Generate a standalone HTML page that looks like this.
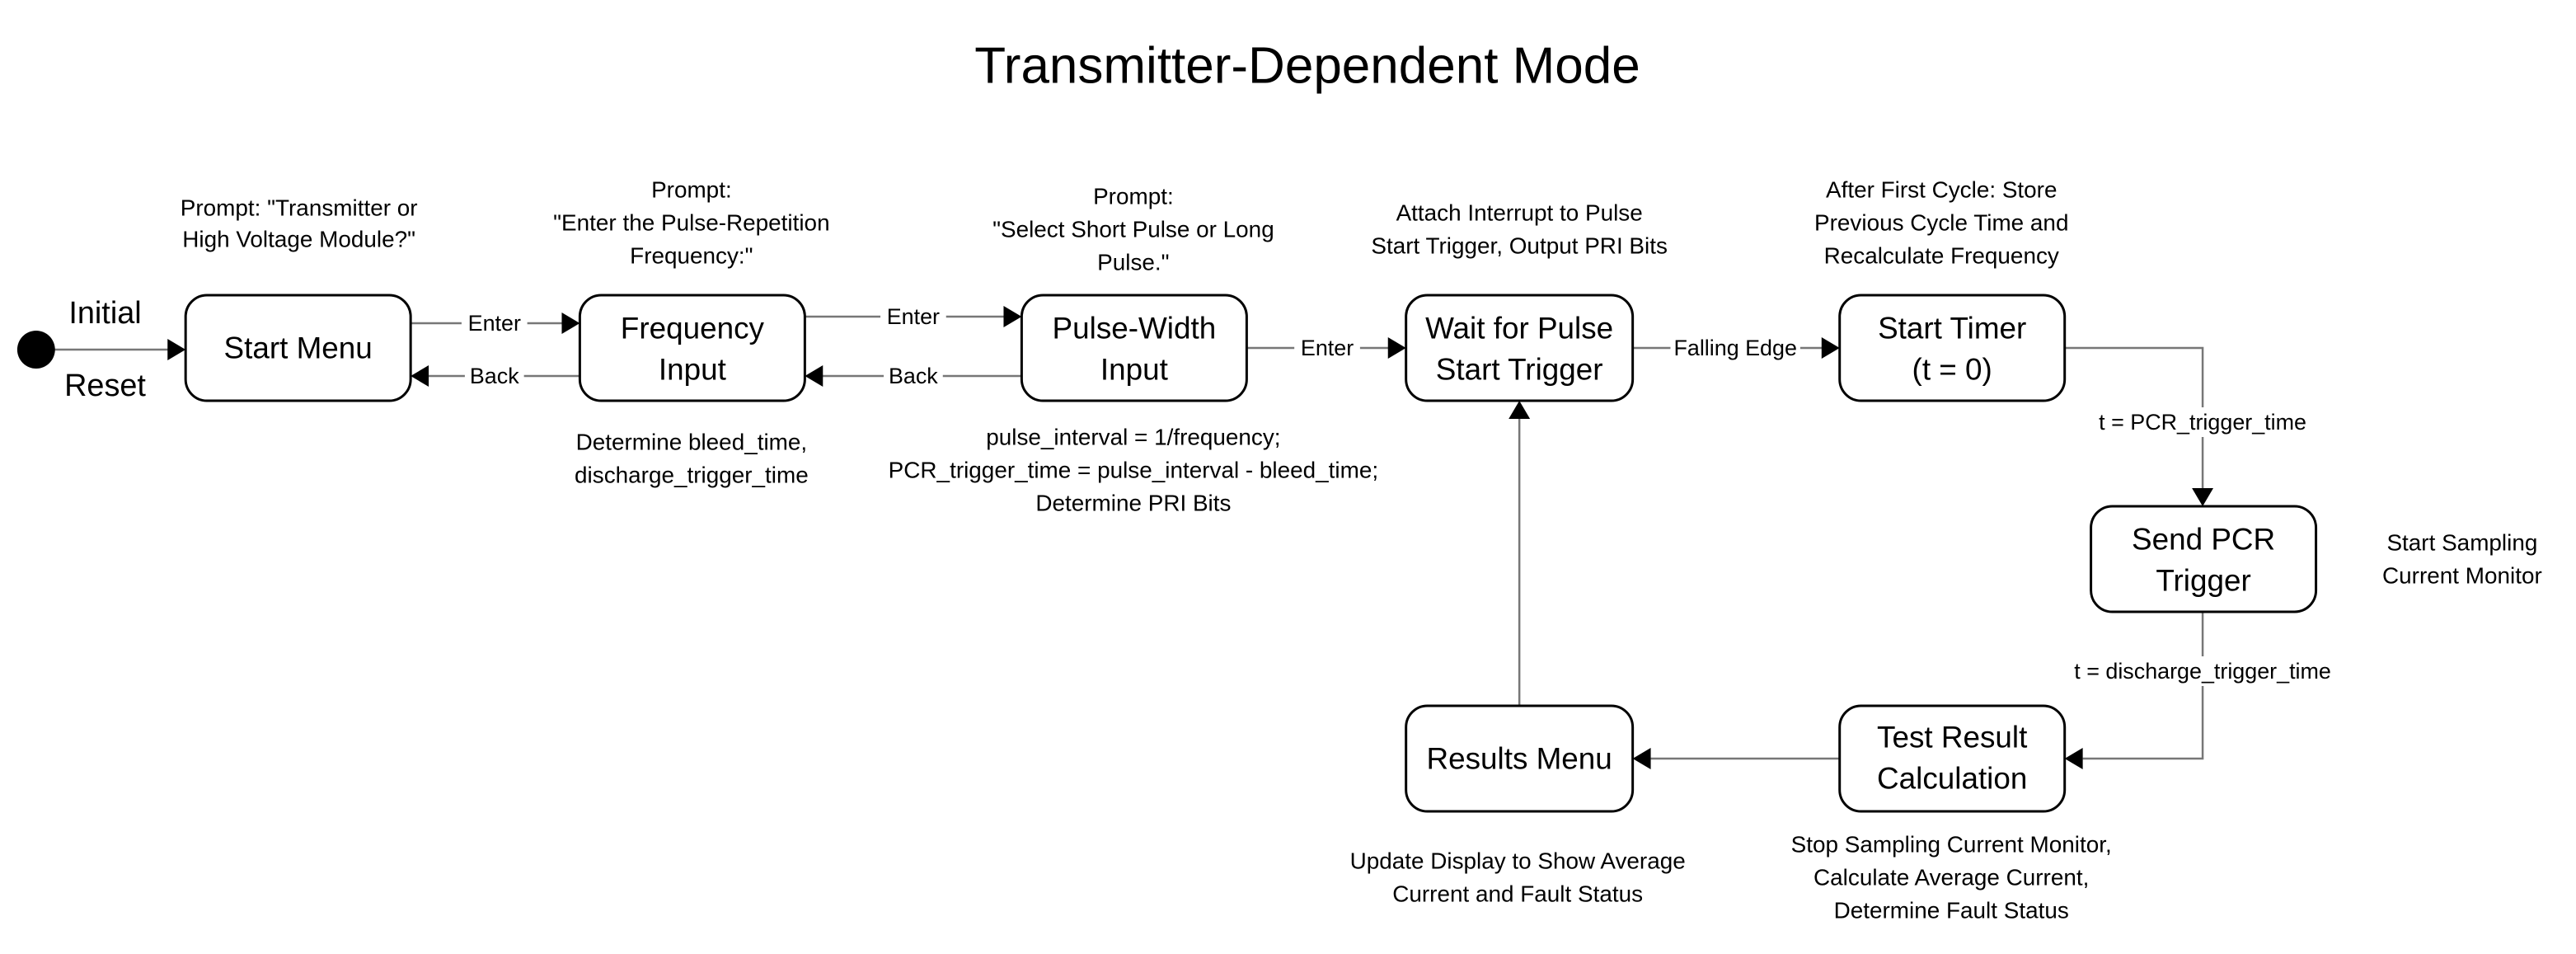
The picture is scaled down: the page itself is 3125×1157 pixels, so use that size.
<!DOCTYPE html>
<html><head><meta charset="utf-8"><style>
html,body{margin:0;padding:0;background:#fff;}
svg{display:block;}
text{font-family:"Liberation Sans",sans-serif;fill:#000;}
</style></head><body>
<svg width="3125" height="1157" viewBox="0 0 3125 1157" xmlns="http://www.w3.org/2000/svg">
<text x="1586" y="80" font-size="62" text-anchor="middle" dominant-baseline="central">Transmitter-Dependent Mode</text>
<g transform="scale(0.9963 1)">
<g fill="none" stroke="#777" stroke-width="2.5">
<line x1="44" y1="424" x2="206" y2="424"/>
<line x1="500" y1="392" x2="686" y2="392"/>
<line x1="522" y1="456" x2="706" y2="456"/>
<line x1="980" y1="384" x2="1224" y2="384"/>
<line x1="1000" y1="456" x2="1244" y2="456"/>
<line x1="1518" y1="422" x2="1692" y2="422"/>
<line x1="1988" y1="422" x2="2220" y2="422"/>
<polyline points="2514,422 2682,422 2682,594"/>
<polyline points="2682,742 2682,920 2536,920"/>
<line x1="2240" y1="920" x2="2010" y2="920"/>
<line x1="1850" y1="856" x2="1850" y2="508"/>
</g>
<g fill="#000">
<circle cx="44" cy="424" r="23"/>
<polygon points="226,424 204,411 204,437"/>
<polygon points="706,392 684,379 684,405"/>
<polygon points="500,456 522,443 522,469"/>
<polygon points="1244,384 1222,371 1222,397"/>
<polygon points="980,456 1002,443 1002,469"/>
<polygon points="1712,422 1690,409 1690,435"/>
<polygon points="2240,422 2218,409 2218,435"/>
<polygon points="2682,614 2669,592 2695,592"/>
<polygon points="2514,920 2536,907 2536,933"/>
<polygon points="1988,920 2010,907 2010,933"/>
<polygon points="1850,486 1837,508 1863,508"/>
</g>

<g fill="#fff" stroke="#000" stroke-width="3">
<rect x="226" y="358" width="274" height="128" rx="26"/>
<rect x="706" y="358" width="274" height="128" rx="26"/>
<rect x="1244" y="358" width="274" height="128" rx="26"/>
<rect x="1712" y="358" width="276" height="128" rx="26"/>
<rect x="2240" y="358" width="274" height="128" rx="26"/>
<rect x="2546" y="614" width="274" height="128" rx="26"/>
<rect x="2240" y="856" width="274" height="128" rx="26"/>
<rect x="1712" y="856" width="276" height="128" rx="26"/>
</g>

<g font-size="37" text-anchor="middle" dominant-baseline="central">
<text x="363" y="422">Start Menu</text>
<text x="843" y="398">Frequency</text><text x="843" y="448">Input</text>
<text x="1381" y="398">Pulse-Width</text><text x="1381" y="448">Input</text>
<text x="1850" y="398">Wait for Pulse</text><text x="1850" y="448">Start Trigger</text>
<text x="2377" y="398">Start Timer</text><text x="2377" y="448">(t = 0)</text>
<text x="2683" y="654">Send PCR</text><text x="2683" y="704">Trigger</text>
<text x="2377" y="894">Test Result</text><text x="2377" y="944">Calculation</text>
<text x="1850" y="920">Results Menu</text>
<text x="128" y="380" font-size="38">Initial</text>
<text x="128" y="468" font-size="38">Reset</text>
</g>

<g font-size="27" text-anchor="middle" dominant-baseline="central">
<rect x="562" y="376" width="80" height="32" fill="#fff"/><text x="602" y="392">Enter</text>
<rect x="566" y="440" width="72" height="32" fill="#fff"/><text x="602" y="456">Back</text>
<rect x="1072" y="368" width="80" height="32" fill="#fff"/><text x="1112" y="384">Enter</text>
<rect x="1076" y="440" width="72" height="32" fill="#fff"/><text x="1112" y="456">Back</text>
<rect x="1576" y="406" width="80" height="32" fill="#fff"/><text x="1616" y="422">Enter</text>
<rect x="2034" y="406" width="158" height="32" fill="#fff"/><text x="2113" y="422">Falling Edge</text>
<rect x="2522" y="494" width="320" height="36" fill="#fff"/><text x="2682" y="512">t = PCR_trigger_time</text>
<rect x="2482" y="796" width="400" height="36" fill="#fff"/><text x="2682" y="814">t = discharge_trigger_time</text>
</g>
<g font-size="28" text-anchor="middle" dominant-baseline="central">
<text x="364" y="252">Prompt: "Transmitter or</text>
<text x="364" y="290">High Voltage Module?"</text>
<text x="842" y="230">Prompt:</text>
<text x="842" y="270">"Enter the Pulse-Repetition</text>
<text x="842" y="310">Frequency:"</text>
<text x="1380" y="238">Prompt:</text>
<text x="1380" y="278">"Select Short Pulse or Long</text>
<text x="1380" y="318">Pulse."</text>
<text x="1850" y="258">Attach Interrupt to Pulse</text>
<text x="1850" y="298">Start Trigger, Output PRI Bits</text>
<text x="2364" y="230">After First Cycle: Store</text>
<text x="2364" y="270">Previous Cycle Time and</text>
<text x="2364" y="310">Recalculate Frequency</text>
<text x="2998" y="658">Start Sampling</text>
<text x="2998" y="698">Current Monitor</text>
<text x="842" y="536">Determine bleed_time,</text>
<text x="842" y="576">discharge_trigger_time</text>
<text x="1380" y="530">pulse_interval = 1/frequency;</text>
<text x="1380" y="570">PCR_trigger_time = pulse_interval - bleed_time;</text>
<text x="1380" y="610">Determine PRI Bits</text>
<text x="1848" y="1044">Update Display to Show Average</text>
<text x="1848" y="1084">Current and Fault Status</text>
<text x="2376" y="1024">Stop Sampling Current Monitor,</text>
<text x="2376" y="1064">Calculate Average Current,</text>
<text x="2376" y="1104">Determine Fault Status</text>
</g>
</g>
</svg>
</body></html>
